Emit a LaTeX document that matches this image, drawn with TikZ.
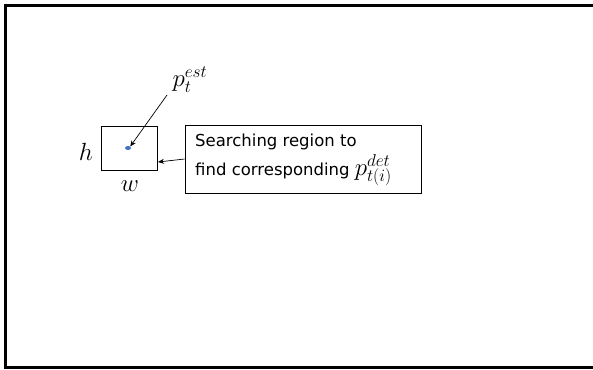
\documentclass[tikz,border=0pt]{standalone}
\usepackage{fontspec}
\newfontfamily\boxfont{DejaVu Sans}
\usetikzlibrary{arrows.meta,shapes.geometric}
\begin{document}
\begin{tikzpicture}[x=1pt,y=-1pt,
  frame/.style={draw=black,line width=2.6pt},
  thinbox/.style={draw=black,line width=0.7pt},
  conn/.style={draw=black,line width=0.7pt,-{Stealth[length=6pt,width=5pt]}},
  boxtext/.style={anchor=base west,inner sep=0pt,font=\boxfont\fontsize{16.5}{19}\selectfont},
  mlabel/.style={inner sep=0pt,font=\fontsize{23}{26}\selectfont}]
\useasboundingbox (0,0) rectangle (593,369);
\draw[frame] (596,5.5) -- (5.5,5.5) -- (5.5,367.5) -- (596,367.5);
\node[thinbox,minimum width=56pt,minimum height=44pt,inner sep=0pt] (small) at (129,148) {};
\node[fill={rgb,255:red,68;green,114;blue,196},ellipse,minimum width=6pt,minimum height=4pt,inner sep=0pt] (dot) at (128,148) {};
\node[thinbox,minimum width=236pt,minimum height=68pt,inner sep=0pt] (big) at (303,159) {};
\node[boxtext] (t1) at (195,146.5) {Searching region to};
\node[boxtext] (t2) at (195,175.5) {find corresponding {\fontsize{23}{26}\selectfont$p_{t(i)}^{det}$}};
\node[mlabel] (h) at (86,152) {$h$};
\node[mlabel] (w) at (130,186) {$w$};
\node[mlabel,font=\fontsize{25}{28}\selectfont] (pest) at (190,80) {$p_t^{est}$};
\coordinate (a1) at (167,95);
\coordinate (b2) at (158,162);
\draw[conn] (a1) -- (dot.north east);
\draw[conn] (big.west) -- (b2);
\end{tikzpicture}
\end{document}
